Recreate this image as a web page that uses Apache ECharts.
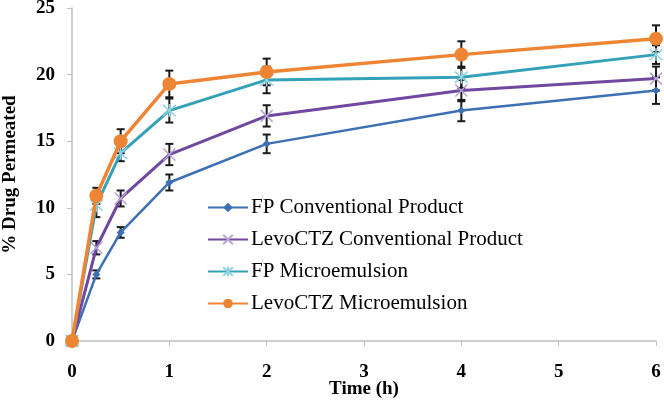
<!DOCTYPE html>
<html>
<head>
<meta charset="utf-8">
<script src="https://cdn.jsdelivr.net/npm/echarts@6/dist/echarts.min.js"></script>
<style>html,body{margin:0;padding:0;background:#fff}#c{width:664px;height:401px}</style>
</head>
<body>
<div id="c"></div>
<script>
var times = [0, 0.25, 0.5, 1, 2, 4, 6];
var seriesNames = ['FP Conventional Product', 'LevoCTZ Conventional Product', 'FP Microemulsion', 'LevoCTZ Microemulsion'];
var fpConv = [0, 5.0, 8.15, 11.9, 14.8, 17.3, 18.8];
var fpConvErr = [0, 0.3, 0.4, 0.6, 0.7, 0.8, 1.0];
var levoConv = [0, 7.0, 10.7, 14.0, 16.9, 18.8, 19.7];
var levoConvErr = [0, 0.5, 0.6, 0.8, 0.8, 0.8, 0.9];
var fpMicro = [0, 10.2, 14.1, 17.3, 19.6, 19.8, 21.5];
var fpMicroErr = [0, 0.9, 0.6, 0.9, 1.0, 0.8, 0.7];
var levoMicro = [0, 10.9, 15.0, 19.3, 20.2, 21.5, 22.7];
var levoMicroErr = [0, 0.6, 0.9, 1.0, 1.0, 1.0, 1.0];
var yTicks = [0, 5, 10, 15, 20, 25];
var xTicks = [0, 1, 2, 3, 4, 5, 6];

var values = [fpConv, levoConv, fpMicro, levoMicro];
var errs = [fpConvErr, levoConvErr, fpMicroErr, levoMicroErr];
var lineColors = ['#3d6fb4', '#7048a0', '#33a1b8', '#ee8535'];
var markColors = ['#3d6fb4', '#b7a4d2', '#8fd3e3', '#ee8535'];
var lineWidths = [2.5, 3, 3, 3.5];
var symbols = ['diamond', 'path://M-1,-1 L1,1 M-1,1 L1,-1', 'path://M0,-1.15 L0,1.15 M-1,-1 L1,1 M-1,1 L1,-1', 'circle'];
var symbolSizes = [8, 12, 13, 14];

function pairs(v) { return times.map(function (t, i) { return [t, v[i]]; }); }

var series = [];
var errData = [];
values.forEach(function (v, s) {
  times.forEach(function (t, i) {
    if (errs[s][i] > 0) errData.push([t, v[i] - errs[s][i], v[i] + errs[s][i]]);
  });
});
series.push({
  type: 'custom',
  name: 'err',
  z: 1,
  data: errData,
  encode: { x: 0, y: [1, 2] },
  renderItem: function (params, api) {
    var lo = api.coord([api.value(0), api.value(1)]);
    var hi = api.coord([api.value(0), api.value(2)]);
    var w = 4;
    var st = { stroke: '#1a1a1a', lineWidth: 2 };
    return {
      type: 'group',
      children: [
        { type: 'line', shape: { x1: lo[0], y1: lo[1], x2: hi[0], y2: hi[1] }, style: st },
        { type: 'line', shape: { x1: lo[0] - w, y1: lo[1], x2: lo[0] + w, y2: lo[1] }, style: st },
        { type: 'line', shape: { x1: hi[0] - w, y1: hi[1], x2: hi[0] + w, y2: hi[1] }, style: st }
      ]
    };
  }
});
values.forEach(function (v, s) {
  var isPath = symbols[s].indexOf('path://') === 0;
  series.push({
    type: 'line',
    name: seriesNames[s],
    z: 2 + s,
    data: pairs(v),
    symbol: symbols[s],
    symbolSize: symbolSizes[s],
    showAllSymbol: true,
    lineStyle: { color: lineColors[s], width: lineWidths[s] },
    itemStyle: isPath ? { color: markColors[s], borderColor: markColors[s], borderWidth: 1.5 } : { color: markColors[s] },
    emphasis: { disabled: true },
    animation: false
  });
});

var chart = echarts.init(document.getElementById('c'), null, { renderer: 'canvas' });
chart.setOption({
  animation: false,
  grid: { left: 72, right: 8, top: 8, bottom: 60, containLabel: false, outerBoundsMode: 'none' },
  legend: {
    data: seriesNames,
    orient: 'vertical',
    left: 207,
    top: 197,
    padding: 0,
    itemWidth: 40,
    itemHeight: 12,
    itemGap: 11,
    textStyle: { fontFamily: 'Liberation Serif', fontSize: 21, color: '#000', padding: [0, 0, 0, -2] }
  },
  xAxis: {
    type: 'value',
    min: xTicks[0],
    max: xTicks[xTicks.length - 1],
    interval: 1,
    name: 'Time (h)',
    nameLocation: 'middle',
    nameGap: 39,
    nameMoveOverlap: false,
    nameTextStyle: { fontFamily: 'Liberation Serif', fontWeight: 'bold', fontSize: 19, color: '#000' },
    axisLine: { lineStyle: { color: '#bfbfbf', width: 1.5 } },
    axisTick: { show: true, length: 5, lineStyle: { color: '#bfbfbf' } },
    axisLabel: { margin: 22, fontFamily: 'Liberation Serif', fontWeight: 'bold', fontSize: 19, color: '#000' },
    splitLine: { show: false }
  },
  yAxis: {
    type: 'value',
    min: yTicks[0],
    max: yTicks[yTicks.length - 1],
    interval: 5,
    name: '% Drug Permeated',
    nameLocation: 'middle',
    nameGap: 52,
    nameMoveOverlap: false,
    nameRotate: 90,
    nameTextStyle: { fontFamily: 'Liberation Serif', fontWeight: 'bold', fontSize: 19, color: '#000' },
    axisLine: { show: true, lineStyle: { color: '#bfbfbf', width: 1.5 } },
    axisTick: { show: true, length: 5, lineStyle: { color: '#bfbfbf' } },
    axisLabel: { margin: 17, fontFamily: 'Liberation Serif', fontWeight: 'bold', fontSize: 19, color: '#000' },
    splitLine: { show: false }
  },
  series: series
});
</script>
</body>
</html>
